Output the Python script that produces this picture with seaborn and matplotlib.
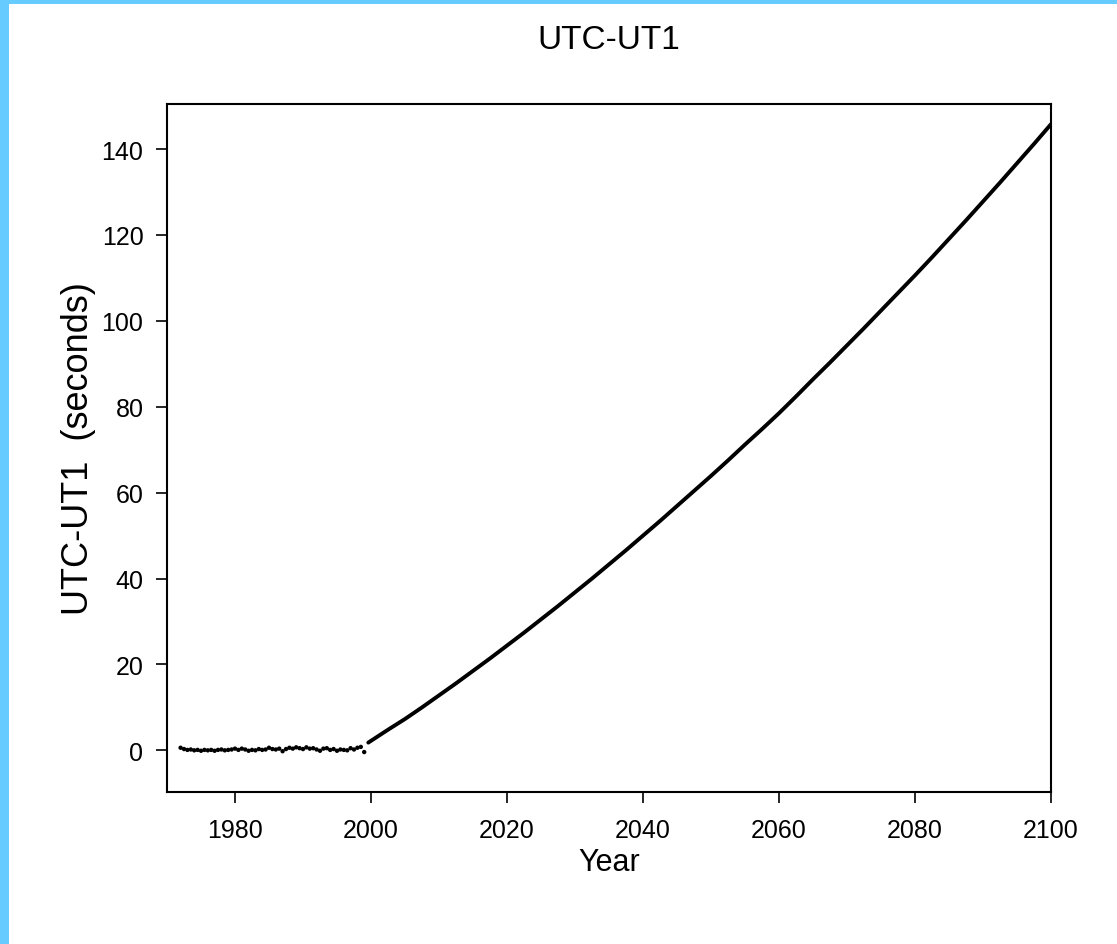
import numpy as np
import pandas as pd
import matplotlib
matplotlib.use("Agg")
import matplotlib.pyplot as plt
import seaborn as sns
from matplotlib.patches import Rectangle

# Observed UTC-UT1 (dots), roughly every half year 1972-1999
obs_years = [1972.0 + 0.5 * i for i in range(55)]
obs_values = [0.6, 0.3, 0.1, 0.2, 0.0, 0.1, -0.1, 0.1, 0.0, 0.1,
              -0.1, 0.1, 0.2, 0.0, 0.1, 0.2, 0.4, 0.1, 0.4, 0.2,
              -0.1, 0.1, 0.0, 0.3, 0.1, 0.2, 0.6, 0.3, 0.2, 0.4,
              -0.2, 0.3, 0.6, 0.4, 0.7, 0.5, 0.3, 0.7, 0.4, 0.5,
              0.2, -0.1, 0.4, 0.5, 0.1, 0.3, -0.1, 0.2, 0.1, 0.0,
              0.5, 0.2, 0.6, 0.8, -0.4]

# Predicted UTC-UT1 (line)
pred_years = [1999.6, 2002.5, 2005, 2007.5, 2010, 2012.5, 2015, 2017.5, 2020,
              2022.5, 2025, 2027.5, 2030, 2032.5, 2035, 2037.5, 2040,
              2042.5, 2045, 2047.5, 2050, 2052.5, 2055, 2057.5, 2060,
              2062.5, 2065, 2067.5, 2070, 2072.5, 2075, 2077.5, 2080,
              2082.5, 2085, 2087.5, 2090, 2092.5, 2095, 2097.5, 2100]
pred_values = [1.8, 4.8, 7.3, 10.0, 12.8, 15.6, 18.5, 21.4, 24.4,
               27.4, 30.5, 33.6, 36.8, 40.0, 43.3, 46.6, 50.0,
               53.4, 56.9, 60.4, 63.9, 67.5, 71.2, 74.8, 78.5,
               82.4, 86.4, 90.3, 94.3, 98.3, 102.4, 106.5, 110.6,
               114.8, 119.1, 123.4, 127.8, 132.2, 136.7, 141.2, 145.8]

xticks = [1980, 2000, 2020, 2040, 2060, 2080, 2100]
yticks = [0, 20, 40, 60, 80, 100, 120, 140]

sns.set_theme(style="ticks")
plt.rcParams['font.family'] = ['Liberation Sans', 'DejaVu Sans']

fig = plt.figure(figsize=(11.17, 9.45), dpi=100)
fig.patch.set_facecolor("white")
ax = fig.add_axes([167/1117, 1 - 793/945, (1051-167)/1117, (793-105)/945])

obs = pd.DataFrame({"Year": obs_years, "v": obs_values})
pred = pd.DataFrame({"Year": pred_years, "v": pred_values})

sns.scatterplot(data=obs, x="Year", y="v", ax=ax, color="black", s=10,
                edgecolor="none", linewidth=0, zorder=3)
sns.lineplot(data=pred, x="Year", y="v", ax=ax, color="black", linewidth=2.8,
             zorder=3)

ax.set_xlim(1970, 2100)
ax.set_ylim(-9.7, 150.5)
ax.set_xticks(xticks)
ax.set_yticks(yticks)
ax.set_xticklabels([str(t) for t in xticks])
ax.set_yticklabels([str(t) for t in yticks])
ax.tick_params(axis="both", direction="out", length=8, width=1.2,
               labelsize=18, colors="black", pad=9)
ax.tick_params(axis="x", pad=11)
for sp in ax.spines.values():
    sp.set_visible(True)
    sp.set_color("black")
    sp.set_linewidth(1.5)

ax.set_xlabel("Year", fontsize=22, color="black", labelpad=3)
ax.set_ylabel("UTC-UT1  (seconds)", fontsize=26, color="black", labelpad=4)
ax.set_title("UTC-UT1", fontsize=24, color="black", pad=40)

# light blue frame on the left and top edges
fig.patches.append(Rectangle((0, 0), 9/1117, 1, transform=fig.transFigure,
                             facecolor="#66CCFF", edgecolor="none", zorder=10))
fig.patches.append(Rectangle((0, 1 - 5/945), 1, 5/945, transform=fig.transFigure,
                             facecolor="#66CCFF", edgecolor="none", zorder=10))

fig.savefig("out.png", dpi=100, facecolor="white")
